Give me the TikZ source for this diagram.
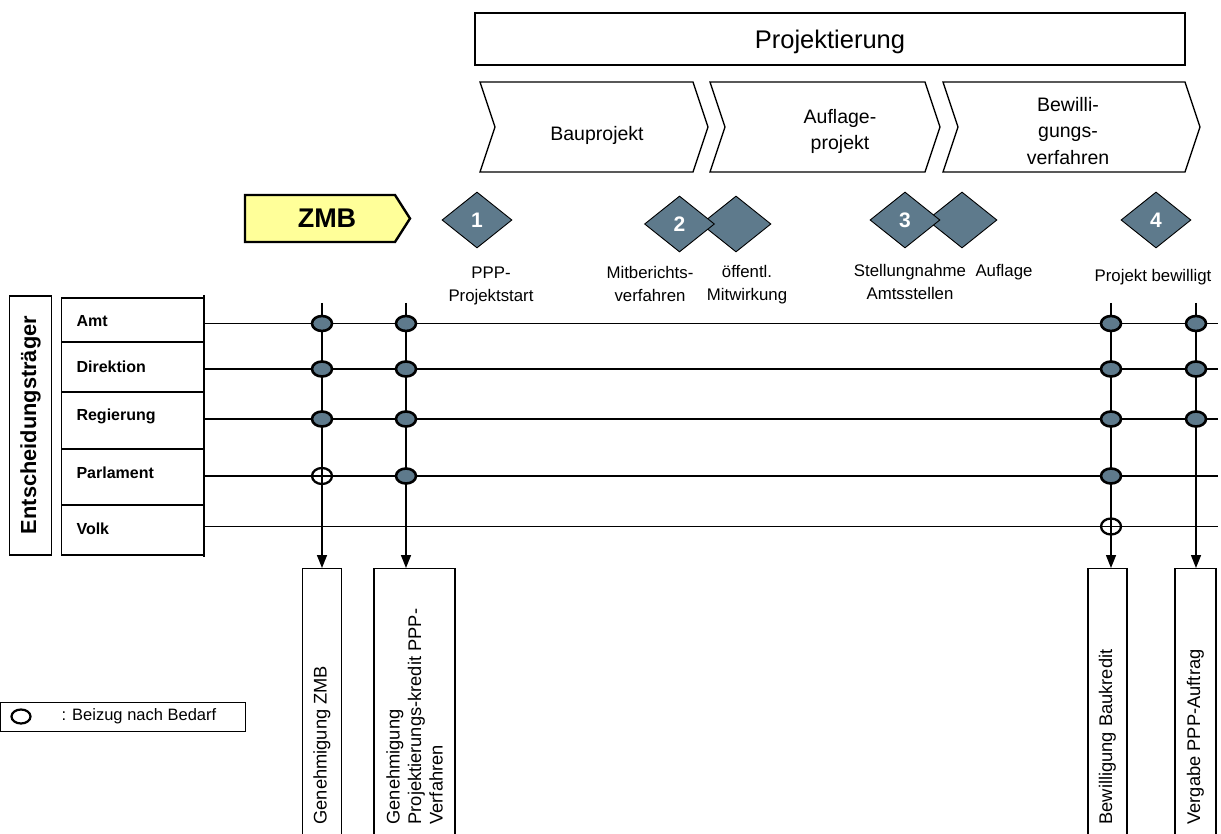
\documentclass[tikz,border=0pt]{standalone}
\usepackage{fontspec}
\setmainfont{Liberation Sans}
\usetikzlibrary{shapes.geometric,arrows.meta}
\definecolor{slate}{RGB}{94,122,140}
\definecolor{zmbyellow}{RGB}{255,255,153}
\newcommand\setfs[2]{\fontsize{#1}{#2}\selectfont}

\begin{document}
\begin{tikzpicture}[x=1pt,y=-1pt,
  outline/.style={draw, line width=1.3pt},
  phase/.style={outline, fill=white},
  phasetext/.style={align=center, font=\setfs{19.5}{26.5}},
  milestone/.style={diamond, draw, line width=0.9pt, fill=slate,
    minimum width=70pt, minimum height=56pt, inner sep=0pt,
    text=white, font=\setfs{21}{24}\bfseries},
  mslabel/.style={align=center, font=\setfs{16.8}{23}},
  lanelabel/.style={anchor=west, font=\setfs{16}{18}\bfseries},
  lane/.style={line width=1.3pt},
  dot/.style={ellipse, draw, line width=2.6pt, fill=slate,
    minimum width=20pt, minimum height=15pt, inner sep=0pt},
  opendot/.style={ellipse, draw, line width=2.3pt,
    minimum width=20pt, minimum height=16pt, inner sep=0pt},
  flow/.style={line width=1.5pt, -{Triangle[length=13pt,width=10pt]}},
  result/.style={outline, anchor=north, minimum height=280pt, inner sep=0pt},
  resulttext/.style={rotate=90, anchor=west, align=left, font=\setfs{18.3}{21.5}}
]
\useasboundingbox (0,0) rectangle (1221,834);

% overall phase
\node[outline, minimum width=710pt, minimum height=52pt, inner sep=0pt] (proj) at (830,39) {};
\node[font=\setfs{25.5}{28}] (projtext) at (830,41.5) {Projektierung};

% sub-phases as chevrons
\draw[phase] (480,82) -- (693,82) -- (708,127) -- (693,172) -- (480,172) -- (495,127) -- cycle;
\draw[phase] (710,82) -- (925,82) -- (940,127) -- (925,172) -- (710,172) -- (725,127) -- cycle;
\draw[phase] (943,82) -- (1185,82) -- (1200,127) -- (1185,172) -- (943,172) -- (958,127) -- cycle;
\node[phasetext] (bau) at (597,135.5) {Bauprojekt};
\node[phasetext] (aufl) at (840,131.5) {Auflage-\\projekt};
\node[phasetext] (bew) at (1068,131) {Bewilli-\\gungs-\\verfahren};

% ZMB arrow
\draw[line width=2.4pt, fill=zmbyellow] (245,195) -- (395,195) -- (410,218.5) -- (395,242) -- (245,242) -- cycle;
\node[font=\setfs{27}{30}\bfseries] (zmb) at (327,218.5) {ZMB};

% milestones
\node[milestone] (m1) at (477,220) {1};
\node[milestone] (m2b) at (736,224) {};
\node[milestone] (m2) at (679.5,224) {2};
\node[milestone] (m3b) at (962,220) {};
\node[milestone] (m3) at (905,220) {3};
\node[milestone] (m4) at (1156,220) {4};

\node[mslabel] (l1) at (491,285.5) {PPP-\\Projektstart};
\node[mslabel] (l2) at (650,284) {Mitberichts-\\verfahren};
\node[mslabel] (l2b) at (747,285) {öffentl.\\Mitwirkung};
\node[mslabel] (l3) at (910,282) {Stellungnahme\\Amtsstellen};
\node[mslabel] (l3b) at (1004,272) {Auflage};
\node[mslabel] (l4) at (1153,277) {Projekt bewilligt};

% decision makers
\node[outline, minimum width=42pt, minimum height=259pt, inner sep=0pt] (dbox) at (30.5,425.5) {};
\node[rotate=90, font=\setfs{21.8}{24}\bfseries] (dtext) at (30.5,425) {Entscheidungsträger};

\draw[lane] (61.5,298) rectangle (204,555);
\draw[lane] (204,295) -- (204,557);
\foreach \yy in {342,392,449,505} \draw[lane] (61.5,\yy) -- (204,\yy);
\node[lanelabel] (amt) at (73,321) {Amt};
\node[lanelabel] (dir) at (73,367) {Direktion};
\node[lanelabel] (reg) at (73,416.5) {Regierung};
\node[lanelabel] (par) at (73,473) {Parlament};
\node[lanelabel] (volk) at (73,529) {Volk};

\foreach \yy/\nm in {323.5/Amt,369/Dir,419/Reg,476/Par,526.5/Volk} {
  \coordinate (s\nm) at (204,\yy);
  \coordinate (e\nm) at (1218,\yy);
  \draw[lane] (s\nm) -- (e\nm);
}

% results
\node[result, minimum width=39pt] (r1) at (322,568) {};
\node[result, minimum width=81pt] (r2) at (414.5,568) {};
\node[result, minimum width=39pt] (r3) at (1107.5,568) {};
\node[result, minimum width=41pt] (r4) at (1195.5,568) {};
\node[resulttext] (t1) at (322,828) {Genehmigung ZMB};
\node[resulttext] (t2) at (414.5,828) {Genehmigung\\Projektierungs-kredit PPP-\\Verfahren};
\node[resulttext] (t3) at (1107.5,828) {Bewilligung Baukredit};
\node[resulttext] (t4) at (1195.5,828) {Vergabe PPP-Auftrag};

% decision paths
\coordinate (c1) at (322,303);
\coordinate (c2) at (406,303);
\coordinate (c3) at (1111,303);
\coordinate (c4) at (1196,303);
\draw[flow] (c1) -- (c1 |- r1.north);
\draw[flow] (c2) -- (c2 |- r2.north);
\draw[flow] (c3) -- (c3 |- r3.north);
\draw[flow] (c4) -- (c4 |- r4.north);

\foreach \cc/\ll in {1/Amt,1/Dir,1/Reg,2/Amt,2/Dir,2/Reg,2/Par,
                    3/Amt,3/Dir,3/Reg,3/Par,4/Amt,4/Dir,4/Reg}
  \node[dot] (d\cc\ll) at (c\cc |- s\ll) {};
\node[opendot] (d1Par) at (c1 |- sPar) {};
\node[opendot] (d3Volk) at (c3 |- sVolk) {};

% legend
\node[outline, minimum width=245pt, minimum height=29pt, inner sep=0pt, anchor=north west] (leg) at (0,702) {};
\node[ellipse, draw, line width=2.2pt, minimum width=19pt, minimum height=14pt, inner sep=0pt] (legdot) at (21,716.5) {};
\node[anchor=west, font=\setfs{16.5}{19}] (legtext) at (58,716.5) {: Beizug nach Bedarf};
\end{tikzpicture}
\end{document}
